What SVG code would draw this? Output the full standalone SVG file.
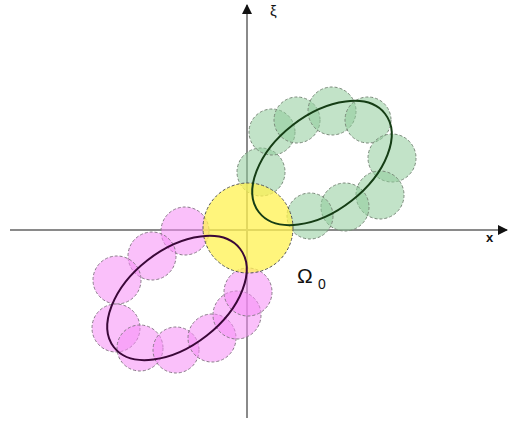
<svg xmlns="http://www.w3.org/2000/svg" width="509" height="423" viewBox="0 0 509 423">
<defs>
<style>
.ax{stroke:#8a8a8a;stroke-width:2;fill:none}
.g{fill:#8fcc9a;fill-opacity:0.55;stroke:#7a8a7a;stroke-width:1;stroke-dasharray:3,2}
.m{fill:#f58cf5;fill-opacity:0.55;stroke:#8a7a8a;stroke-width:1;stroke-dasharray:3,2}
.y{fill:#fff250;fill-opacity:0.75;stroke:#555;stroke-width:1;stroke-dasharray:3,2}
.lbl{font-family:"Liberation Sans",Arial,sans-serif;fill:#111}
</style>
<marker id="ah" viewBox="0 0 10 10" refX="9" refY="5" markerWidth="5" markerHeight="5" orient="auto" markerUnits="strokeWidth">
<path d="M0,0 L10,5 L0,10 z" fill="#111"/>
</marker>
</defs>
<rect width="509" height="423" fill="#fff"/>
<g id="connectors">
<line class="ax" x1="247" y1="418" x2="247" y2="5" marker-end="url(#ah)"/>
<line class="ax" x1="10" y1="230" x2="507" y2="230" marker-end="url(#ah)"/>
</g>
<g id="green-circles">
<circle class="g" cx="261" cy="172" r="24"/>
<circle class="g" cx="272" cy="132" r="23"/>
<circle class="g" cx="297" cy="120" r="23"/>
<circle class="g" cx="332" cy="111" r="24"/>
<circle class="g" cx="368" cy="120" r="23"/>
<circle class="g" cx="392" cy="158" r="24"/>
<circle class="g" cx="380" cy="195" r="24"/>
<circle class="g" cx="345" cy="207" r="24"/>
<circle class="g" cx="310" cy="216" r="23"/>
</g>
<g id="magenta-circles">
<circle class="m" cx="185" cy="231" r="24"/>
<circle class="m" cx="152" cy="256" r="24"/>
<circle class="m" cx="117" cy="280" r="24"/>
<circle class="m" cx="116" cy="328" r="24"/>
<circle class="m" cx="140" cy="348" r="23"/>
<circle class="m" cx="176" cy="350" r="23"/>
<circle class="m" cx="212" cy="338" r="24"/>
<circle class="m" cx="237" cy="315" r="24"/>
<circle class="m" cx="248" cy="292" r="24"/>
</g>
<g id="omega0">
<circle class="y" cx="248" cy="228" r="45"/>
</g>
<g id="green-ellipse">
<ellipse cx="322" cy="163" rx="80" ry="48" transform="rotate(-38 322 163)" fill="none" stroke="#153d15" stroke-width="2"/>
</g>
<g id="magenta-ellipse">
<ellipse cx="177" cy="298" rx="80" ry="48" transform="rotate(-38 177 298)" fill="none" stroke="#3a0838" stroke-width="2"/>
</g>
<g id="labels">
<text class="lbl" x="270" y="16" font-size="15">ξ</text>
<text class="lbl" x="486" y="242" font-size="13" font-weight="bold">x</text>
<text class="lbl" x="297" y="283" font-size="21">Ω</text>
<text class="lbl" x="318" y="289" font-size="14">0</text>
</g>
</svg>
